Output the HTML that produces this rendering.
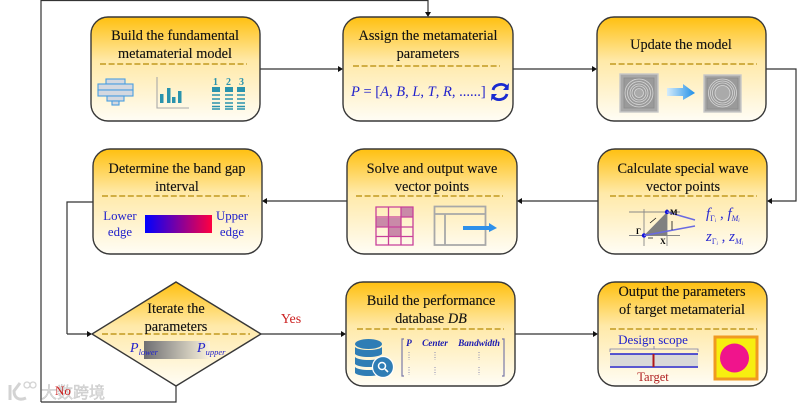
<!DOCTYPE html>
<html><head><meta charset="utf-8"><style>
html,body{margin:0;padding:0;background:#fff;width:797px;height:407px;overflow:hidden}
svg{display:block;filter:blur(.35px)}
text{font-family:"Liberation Serif","Noto Serif CJK SC",serif}
.t{font-size:14.3px;fill:#111;text-anchor:middle;stroke:#111;stroke-width:.12}
.b{fill:url(#g);stroke:#383838;stroke-width:1.4}
.d{stroke:#c29a20;stroke-width:1.5;stroke-dasharray:6 2.6;fill:none}
.l{stroke:#333;stroke-width:1.2;fill:none}
.tl{fill:none;stroke:#2a93ad;stroke-width:1.5}
</style></head><body>
<svg width="797" height="407" viewBox="0 0 797 407" xmlns="http://www.w3.org/2000/svg">
<defs>
<linearGradient id="g" x1="0" y1="0" x2="0" y2="1"><stop offset="0" stop-color="#ffc010"/><stop offset=".42" stop-color="#ffe9a8"/><stop offset="1" stop-color="#fffdf5"/></linearGradient>
<linearGradient id="rb" x1="0" x2="1"><stop offset="0" stop-color="#0000ff"/><stop offset="1" stop-color="#ff0040"/></linearGradient>
<linearGradient id="gr" x1="0" x2="1"><stop offset="0" stop-color="#6e6e72"/><stop offset="1" stop-color="#fbf3dc"/></linearGradient>
<linearGradient id="ar" x1="0" x2="1"><stop offset="0" stop-color="#d5ecfb"/><stop offset="1" stop-color="#1f8fe8"/></linearGradient>
</defs>
<rect width="797" height="407" fill="#fff"/>

<!-- connectors -->
<path class="l" d="M41 402V.5H428V13M176 386V402H41M67 334V202H93M260 69H340M513 69H594M766 69H796V201H770M598 201H520M347 201H265M261 334H343M515 334H595"/>
<path class="l" d="M67 334H90"/>
<g fill="#111">
<path d="M428 17l-3-5h6zM343 69l-5-3v6zM597 69l-5-3v6zM767 201l5-3v6zM517 201l5-3v6zM262 201l5-3v6zM92 334l-5-3v6zM346 334l-5-3v6zM598 334l-5-3v6z"/>
</g>

<!-- boxes -->
<rect class="b" x="91" y="17" width="169" height="104" rx="17"/>
<rect class="b" x="343" y="17" width="170" height="104" rx="17"/>
<rect class="b" x="597" y="17" width="169" height="104" rx="17"/>
<rect class="b" x="598" y="149" width="169" height="105" rx="17"/>
<rect class="b" x="347" y="149" width="170" height="105" rx="17"/>
<rect class="b" x="93" y="149" width="169" height="105" rx="17"/>
<rect class="b" x="346" y="282" width="169" height="104" rx="17"/>
<rect class="b" x="598" y="282" width="169" height="104" rx="17"/>
<path class="b" d="M176 282L261 334L176 386L92 334Z"/>

<!-- dashes -->
<path class="d" d="M100 64H247M353 66H500M610 64H757M610 196H757M356 196H503M102 196H249M102 334H250M357 329H504M610 329H757"/>

<!-- titles -->
<text class="t" x="175" y="40">Build the fundamental</text>
<text class="t" x="175" y="58">metamaterial model</text>
<text class="t" x="428" y="40">Assign the metamaterial</text>
<text class="t" x="428" y="58">parameters</text>
<text class="t" x="681" y="49">Update the model</text>
<text class="t" x="683" y="173">Calculate special wave</text>
<text class="t" x="683" y="191">vector points</text>
<text class="t" x="432" y="173">Solve and output wave</text>
<text class="t" x="432" y="191">vector points</text>
<text class="t" x="177" y="173">Determine the band gap</text>
<text class="t" x="177" y="191">interval</text>
<text class="t" x="176" y="313">Iterate the</text>
<text class="t" x="176" y="331">parameters</text>
<text class="t" x="431" y="305">Build the performance</text>
<text class="t" x="431" y="323">database <tspan font-style="italic">DB</tspan></text>
<text class="t" x="682" y="296">Output the parameters</text>
<text class="t" x="682" y="314">of target metamaterial</text>

<!-- box 1 icons -->
<g fill="#d4d8e0" stroke="#4a9ee0" stroke-width="1.1">
<rect x="106" y="79" width="19" height="5"/><rect x="98" y="84" width="35" height="6"/><rect x="98" y="90" width="35" height="6"/><rect x="107" y="96" width="17" height="5"/><rect x="112" y="101" width="7" height="4"/>
</g>
<path d="M157 77V108H189" fill="none" stroke="#a9a9a9" stroke-width="1.1"/>
<g fill="#2a93ad"><rect x="160" y="94" width="3.5" height="9"/><rect x="167" y="88" width="3.5" height="15"/><rect x="172" y="97" width="3.5" height="6"/><rect x="178" y="91" width="3.5" height="12"/></g>
<g font-size="10" font-weight="bold" fill="#2a93ad" text-anchor="middle"><text x="215.500" y="85">1</text><text x="228.500" y="85">2</text><text x="241.500" y="85">3</text></g>
<g fill="#2a93ad"><rect x="212" y="87" width="8" height="5"/><rect x="225" y="87" width="8" height="5"/><rect x="237" y="87" width="8" height="5"/></g>
<path class="tl" d="M212 95h8M225 95h8M237 95h8M212 99h8M225 99h8M237 99h8M212 103h8M225 103h8M237 103h8M212 106.500h8M225 106.500h8M237 106.500h8M212 109h8M225 109h8M237 109h8"/>

<!-- box 2 -->
<text x="351" y="96" font-size="14.500" fill="#2222cc"><tspan font-style="italic">P</tspan> = [<tspan font-style="italic">A</tspan>, <tspan font-style="italic">B</tspan>, <tspan font-style="italic">L</tspan>, <tspan font-style="italic">T</tspan>, <tspan font-style="italic">R</tspan>, ......]</text>
<path d="M493 90a8 7 0 0 1 14-3M507 94a8 7 0 0 1-14 3" fill="none" stroke="#1a2ad0" stroke-width="2.800"/>
<path d="M509 83l-.5 7h-5.500zM491 101l.5-7h5.500z" fill="#1a2ad0"/>

<!-- box 3 -->
<g fill="none" stroke="#d8d8d8" stroke-width=".8">
<rect x="620" y="74" width="38" height="38" fill="#a8a8a8" stroke="#c8c8c8" stroke-width="1.400"/>
<rect x="624" y="78" width="30" height="30" fill="#9a9a9a" stroke="#8a8a8a"/>
<circle cx="639" cy="93" r="14"/><circle cx="639" cy="93" r="11.500"/><circle cx="639" cy="93" r="9"/><circle cx="639" cy="93" r="7"/><circle cx="639" cy="93" r="4.500" fill="#aaa"/>
<rect x="704" y="75" width="37" height="37" fill="#a8a8a8" stroke="#c8c8c8" stroke-width="1.400"/>
<rect x="707" y="78" width="31" height="31" fill="#9a9a9a" stroke="#8a8a8a"/>
<circle cx="722.500" cy="93" r="14"/><circle cx="722.500" cy="93" r="12"/><circle cx="722.500" cy="93" r="10"/><circle cx="722.500" cy="93" r="7.500" fill="#aaa"/>
</g>
<path d="M667 88H683V84L695 93L683 100V96H667Z" fill="url(#ar)"/>

<!-- calculate icon -->
<path d="M644 209V246M667 209V246M629 212H680M629 235.500H680" stroke="#888" stroke-width=".9" fill="none"/>
<path d="M644 235.500L667 212V235.500Z" fill="#808080"/>
<circle cx="667" cy="212" r="2.200" fill="#1111dd"/><circle cx="644" cy="235.500" r="2.200" fill="#1111dd"/>
<path d="M667 212L695 220M644 235.500L695 226" stroke="#6a6ae0" stroke-width="1.500"/>
<path d="M650 223l6-5M672 221v9M653 238h-5" stroke="#111" stroke-width=".8"/>
<text x="670" y="215" font-size="8" font-weight="bold">M</text>
<text x="636" y="234" font-size="8" font-weight="bold">Γ</text>
<text x="660" y="244" font-size="8" font-weight="bold">X</text>
<text x="706" y="218" font-size="15" font-style="italic" fill="#2a2ad0">f<tspan font-size="8" dy="3" font-style="normal">Γ</tspan><tspan font-size="5" dy="1">i</tspan><tspan dy="-4" font-style="normal"> , </tspan>f<tspan font-size="8" dy="3">M</tspan><tspan font-size="5" dy="1">i</tspan></text>
<text x="706" y="241" font-size="15" font-style="italic" fill="#2a2ad0">z<tspan font-size="8" dy="3" font-style="normal">Γ</tspan><tspan font-size="5" dy="1">i</tspan><tspan dy="-4" font-style="normal"> , </tspan>z<tspan font-size="8" dy="3">M</tspan><tspan font-size="5" dy="1">i</tspan></text>

<!-- table icon -->
<g fill="#c98aa8"><rect x="401" y="207" width="12" height="10"/><rect x="376" y="218" width="12" height="9"/><rect x="389" y="218" width="12" height="9"/><rect x="389" y="227" width="12" height="10"/></g>
<path d="M376 207H413V245H376ZM376 217H413M376 227H413M376 236.500H413M388.500 207V245M401 207V245" fill="none" stroke="#c8409a" stroke-width="1.300"/>
<path d="M434.500 206.500H485.500V245H434.500ZM434.500 214H485.500M445 214V245" fill="none" stroke="#a8a8a8" stroke-width="1.800"/>
<path d="M463 226H489V223L497 228L489 232V230H463Z" fill="#2e90ea"/>

<!-- band gap -->
<g font-size="12.800" fill="#2222cc" text-anchor="middle"><text x="120" y="220">Lower</text><text x="120" y="236">edge</text><text x="232" y="220">Upper</text><text x="232" y="236">edge</text></g>
<rect x="145" y="215" width="67" height="18" fill="url(#rb)"/>

<!-- diamond content -->
<rect x="144" y="341" width="66" height="18" fill="url(#gr)"/>
<text x="130" y="352" font-size="14" font-style="italic" fill="#2222cc">P<tspan font-size="8.500" dy="3">lower</tspan></text>
<text x="197" y="352" font-size="14" font-style="italic" fill="#2222cc">P<tspan font-size="8.500" dy="3">upper</tspan></text>
<text x="291" y="323" font-size="14" fill="#cc2222" text-anchor="middle">Yes</text>

<!-- database -->
<g fill="#2f7db5"><ellipse cx="368.500" cy="344" rx="13.500" ry="5"/><path d="M355 347c4 4 23 4 27 0v7c-4 4-23 4-27 0z"/><path d="M355 357c4 4 23 4 27 0v7c-4 4-23 4-27 0z"/><path d="M355 367c4 4 23 4 27 0v6c-4 4-23 4-27 0z"/></g>
<circle cx="383" cy="367" r="10.500" fill="#2f7db5" stroke="#fff" stroke-width="1.200"/>
<circle cx="382" cy="366" r="3.500" fill="none" stroke="#fff" stroke-width="1.500"/><path d="M385 369l3 3" stroke="#fff" stroke-width="1.600"/>
<path d="M404 339H402V376H404M502 339H504V376H502" fill="none" stroke="#7a7aa8" stroke-width="1.200"/>
<g font-size="9.300" font-weight="bold" font-style="italic" fill="#1a1ab0" text-anchor="middle"><text x="409" y="346">P</text><text x="435" y="346">Center</text><text x="479" y="346">Bandwidth</text></g>
<path d="M409 352v8M435 352v8M479 352v8M409 367v8M435 367v8M479 367v8" stroke="#8a8ab0" stroke-width="1" stroke-dasharray="1 1.500"/>

<!-- output -->
<text x="653" y="344" font-size="13" fill="#2222cc" text-anchor="middle">Design scope</text>
<path d="M610 352V349H698V352M654 349V346" fill="none" stroke="#7a7aa8" stroke-width=".8"/>
<rect x="610" y="354" width="88" height="12" fill="#d8d8d8"/>
<path d="M610 354H698M610 367H698" stroke="#2222cc" stroke-width="1.500"/>
<path d="M653.500 354V367" stroke="#b01818" stroke-width="2"/>
<text x="653" y="381" font-size="12.500" fill="#b02020" text-anchor="middle">Target</text>
<rect x="715" y="337" width="42" height="42" fill="#f7ee10" stroke="#f09a20" stroke-width="3"/>
<circle cx="734.500" cy="358" r="14.500" fill="#f0148c"/>

<!-- watermark + No -->
<g opacity=".9">
<path d="M10 385V400M20 383L14 391C14 398 19 401 26 398" fill="none" stroke="#cfcfcf" stroke-width="3"/>
<circle cx="27" cy="385" r="3" fill="none" stroke="#cfcfcf" stroke-width="1.300"/><circle cx="33" cy="385" r="3" fill="none" stroke="#cfcfcf" stroke-width="1.300"/>
<text x="41" y="398" font-size="16" fill="#d8d8d8" stroke="#b0b0b0" stroke-width=".3" style="font-family:'Noto Sans CJK SC',sans-serif">大数跨境</text>
</g>
<text x="55" y="395" font-size="13" fill="#cc2222">No</text>
</svg>
</body></html>
